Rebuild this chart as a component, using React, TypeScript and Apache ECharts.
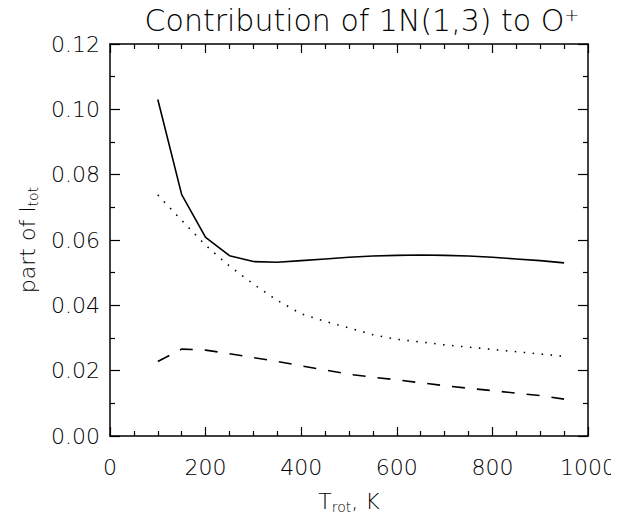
import React, { useEffect, useRef } from 'react';
import * as echarts from 'echarts';

const temps = [100, 150, 200, 250, 300, 350, 400, 450, 500, 550, 600, 650, 700, 750, 800, 850, 900, 950];
const solidVals = [0.103, 0.0739, 0.0608, 0.0552, 0.0534, 0.0532, 0.0537, 0.0542, 0.0547, 0.0551, 0.0553, 0.0554, 0.0553, 0.0551, 0.0547, 0.0542, 0.0537, 0.053];
const dottedVals = [0.0738, 0.066, 0.0584, 0.052, 0.0465, 0.0415, 0.0374, 0.0351, 0.0331, 0.031, 0.0296, 0.0288, 0.0279, 0.0272, 0.0265, 0.0258, 0.0251, 0.0244];
const dashedVals = [0.0228, 0.0266, 0.0263, 0.0252, 0.024, 0.0228, 0.0215, 0.0202, 0.0189, 0.018, 0.0172, 0.0163, 0.0154, 0.0146, 0.0139, 0.0131, 0.0124, 0.0113];

const FONT = 'DejaVu Sans';
const INK = '#000';

export default function App() {
  const chartRef = useRef<HTMLDivElement>(null);

  useEffect(() => {
    if (!chartRef.current) return;
    const myChart = echarts.init(chartRef.current, null, { renderer: 'svg' });

    const pairs = (vals: number[]) => temps.map((t, i) => [t, vals[i]]);

    const axisCommon = {
      axisLine: { show: true, onZero: false, lineStyle: { color: INK, width: 1.5 } },
      splitLine: { show: false },
    };
    const xTicks = {
      axisTick: { show: true, inside: true, length: 9, lineStyle: { color: INK, width: 1.2 } },
      minorTick: { show: true, splitNumber: 4, length: 5, lineStyle: { color: INK, width: 1.2 } },
    };
    const yTicks = {
      axisTick: { show: true, inside: true, length: 10, lineStyle: { color: INK, width: 1.2 } },
      minorTick: { show: true, splitNumber: 2, length: 5, lineStyle: { color: INK, width: 1.2 } },
    };
    const nameRich = {
      n: { fontFamily: FONT, fontWeight: 'lighter', fontSize: 22, color: INK },
      sub: { fontFamily: FONT, fontWeight: 'lighter', fontSize: 14, color: INK, verticalAlign: 'bottom', padding: [12, 0, 0, 0] },
    };

    const option = {
      animation: false,
      title: {
        text: '{n|Contribution of 1N(1,3) to O}{sup|+}',
        left: 357,
        top: 0,
        textAlign: 'center',
        textStyle: {
          fontFamily: FONT,
          fontSize: 30,
          fontWeight: 'lighter',
          color: INK,
          rich: {
            n: { fontFamily: FONT, fontWeight: 'lighter', fontSize: 30, color: INK },
            sup: { fontFamily: FONT, fontWeight: 'lighter', fontSize: 18, color: INK, verticalAlign: 'top', padding: [0, 0, 13, 0] },
          },
        },
      },
      grid: { left: 110, right: 30, top: 44, bottom: 80 },
      xAxis: [
        {
          ...axisCommon,
          ...xTicks,
          type: 'value',
          position: 'bottom',
          min: 0,
          max: 1000,
          interval: 200,
          axisLabel: {
            color: INK,
            fontFamily: FONT,
            fontWeight: 'lighter',
            fontSize: 22,
            margin: 20,
            formatter: (v: number) => String(v),
          },
          name: '{n|T}{sub|rot}{n|, K}',
          nameLocation: 'middle',
          nameGap: 52,
          nameTextStyle: { color: INK, fontFamily: FONT, fontWeight: 'lighter', fontSize: 22, rich: nameRich },
        },
        {
          ...axisCommon,
          ...xTicks,
          type: 'value',
          position: 'top',
          min: 0,
          max: 1000,
          interval: 200,
          axisLabel: { show: false },
        },
      ],
      yAxis: [
        {
          ...axisCommon,
          ...yTicks,
          type: 'value',
          position: 'left',
          min: 0,
          max: 0.12,
          interval: 0.02,
          axisLabel: {
            color: INK,
            fontFamily: FONT,
            fontWeight: 'lighter',
            fontSize: 22,
            margin: 10,
            formatter: (v: number) => v.toFixed(2),
          },
          name: '{n|part of I}{sub|tot}',
          nameLocation: 'middle',
          nameGap: 70,
          nameRotate: 90,
          nameTextStyle: { color: INK, fontFamily: FONT, fontWeight: 'lighter', fontSize: 22, rich: nameRich },
        },
        {
          ...axisCommon,
          ...yTicks,
          type: 'value',
          position: 'right',
          min: 0,
          max: 0.12,
          interval: 0.02,
          axisLabel: { show: false },
        },
      ],
      series: [
        {
          name: 'solid',
          type: 'line',
          data: pairs(solidVals),
          showSymbol: false,
          lineStyle: { color: INK, width: 1.6, type: 'solid' },
        },
        {
          name: 'dotted',
          type: 'line',
          data: pairs(dottedVals),
          showSymbol: false,
          lineStyle: { color: INK, width: 1.6, type: [1.5, 7.5] },
        },
        {
          name: 'dashed',
          type: 'line',
          data: pairs(dashedVals),
          showSymbol: false,
          lineStyle: { color: INK, width: 1.6, type: [13, 12] },
        },
      ],
    };

    myChart.setOption(option);

    return () => {
      myChart.dispose();
    };
  }, []);

  return <div ref={chartRef} style={{ width: '619px', height: '519px', margin: '-8px 0 0 -8px' }} />;
}
